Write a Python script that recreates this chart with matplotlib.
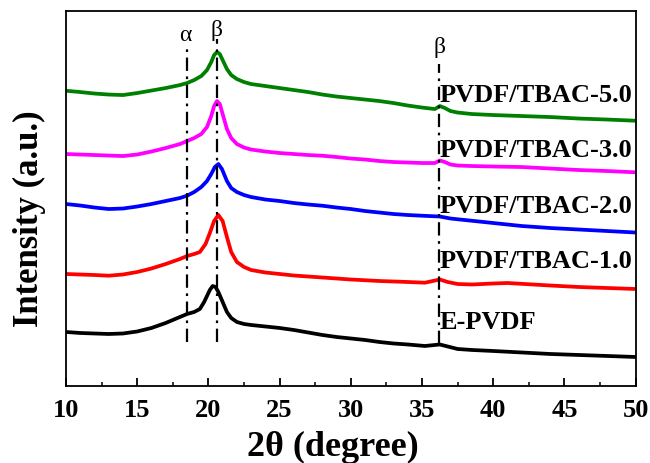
import matplotlib
matplotlib.use("Agg")
import matplotlib.pyplot as plt
from matplotlib.ticker import MultipleLocator

# ---- data (2theta in degree, intensity in arbitrary units) ----
x_black = [10, 11, 12, 13, 14, 15, 16, 17, 17.5, 18, 18.5, 19, 19.4, 19.7, 19.9, 20.1, 20.3, 20.5, 20.7, 21.0, 21.3, 21.6, 22, 22.5, 23, 24, 25, 26, 27, 28, 29, 30, 31, 32, 33, 34, 35.2, 36.25, 36.8, 37.5, 38.5, 40, 42, 44, 46, 48, 50]
y_black = [54, 53, 52.5, 52, 52.5, 54.5, 58, 63, 66, 69, 72, 74, 77, 84, 90, 96, 100, 99, 94, 84, 74, 68, 64, 62, 61, 59.5, 58, 56, 53.5, 51, 49, 47.5, 46, 44, 42.5, 41.5, 40, 41.5, 39.5, 37, 36, 35, 33.5, 32, 31, 30, 29]

x_red = [10, 11, 12, 13, 14, 15, 16, 17, 18, 18.5, 19, 19.4, 19.8, 20.1, 20.4, 20.7, 21.0, 21.3, 21.6, 22, 22.5, 23, 24, 25, 26, 27, 28, 30, 32, 34, 35.2, 36.25, 36.8, 37.5, 38.5, 40, 41, 42.2, 44, 46, 48, 50]
y_red = [112, 111.5, 111, 110.3, 111.5, 114, 117.5, 122, 127, 130, 132, 134, 142, 153, 165, 171, 165, 149, 134, 124, 119, 116, 113.5, 112, 110.5, 109.5, 108.5, 106.5, 105, 104, 103.3, 106.5, 104, 102, 101.5, 102.5, 103, 102, 100.5, 99, 98, 97]

x_blue = [10, 11, 12, 13, 14, 15, 16, 17, 18, 18.5, 19, 19.5, 19.9, 20.2, 20.45, 20.7, 20.95, 21.3, 21.6, 22, 22.5, 23, 24, 25, 26, 27, 28, 29, 30, 31, 32, 33, 34, 35, 36.25, 37, 38, 39, 40, 42, 44, 46, 48, 50]
y_blue = [182, 180.5, 178.5, 177, 177.5, 179.5, 182, 185, 188, 190.3, 194, 199, 205, 212, 219, 222, 217, 205, 198, 194, 191, 189, 186.5, 185, 183, 181.5, 180.3, 178.5, 177, 175, 173.5, 172, 171, 170.3, 169.5, 167.5, 166, 164.5, 163, 160, 158, 156.5, 155, 153.5]

x_magenta = [10, 11, 12, 13, 14, 15, 16, 17, 18, 18.5, 19, 19.5, 19.9, 20.2, 20.4, 20.6, 20.8, 21.0, 21.3, 21.6, 22, 22.5, 23, 24, 25, 26, 27, 28, 29, 30, 31, 32, 33, 34, 35, 35.9, 36.25, 36.6, 37, 37.5, 38.5, 40, 42, 44, 46, 48, 50]
y_magenta = [232, 231.5, 231, 230.5, 230, 231.5, 234.5, 238, 242, 245, 248, 252, 259, 270, 280, 285, 282, 272, 257, 248, 242, 238.5, 236.5, 234.5, 233, 232, 231, 230.3, 229, 227.5, 226.5, 225, 224, 223.5, 223, 223, 225.5, 224, 221.5, 220.5, 220, 219.5, 219, 217.5, 216, 215, 213.7]

x_green = [10, 11, 12, 13, 14, 15, 16, 17, 18, 18.5, 19, 19.5, 19.9, 20.2, 20.4, 20.6, 20.8, 21.0, 21.3, 21.6, 22, 22.5, 23, 24, 25, 26, 27, 28, 29, 30, 31, 32, 33, 34, 35, 35.9, 36.25, 36.6, 37, 37.5, 38.5, 40, 42, 44, 46, 48, 50]
y_green = [295.3, 294, 292.5, 291.5, 291, 293, 295.5, 298, 301, 303, 306, 310, 316, 324, 331, 334, 332, 326, 317, 311, 307, 304, 302, 300, 298, 296, 294, 291.5, 289.5, 288, 286.5, 285, 283, 280.5, 278.5, 277, 280, 278, 275, 273.5, 272, 271, 270, 269, 267.5, 266.5, 265.3]

series_x = [x_black, x_red, x_blue, x_magenta, x_green]
series_y = [y_black, y_red, y_blue, y_magenta, y_green]
colors = ["#000000", "#ff0000", "#0000ff", "#ff00ff", "#008000"]

labels = ["E-PVDF", "PVDF/TBAC-1.0", "PVDF/TBAC-2.0", "PVDF/TBAC-3.0", "PVDF/TBAC-5.0"]
label_y = [64, 126, 181, 237, 292]
label_x = 36.25

# reference peak lines
peak_pos = [18.5, 20.6, 36.2]
peak_bottom = [44, 44, 42]
peak_top = [339, 347, 322]
peak_sym = ["α", "β", "β"]
peak_sym_y = [352, 357, 340]
peak_sym_x = [18.4, 20.6, 36.2]

x_ticks = [10, 15, 20, 25, 30, 35, 40, 45, 50]

plt.rcParams["font.family"] = ["Liberation Serif", "DejaVu Serif"]

fig = plt.figure(figsize=(6.5, 4.64), dpi=100)
ax = fig.add_axes([0.1015, 0.166, 0.8765, 0.808])

for xs, ys, c in zip(series_x, series_y, colors):
    ax.plot(xs, ys, color=c, lw=2.7, solid_joinstyle="round")

for p, b, t in zip(peak_pos, peak_bottom, peak_top):
    ax.plot([p, p], [b, t], color="black", lw=1.6, linestyle=(0, (6, 2.5, 1.2, 2.5)))

for s, sx, sy in zip(peak_sym, peak_sym_x, peak_sym_y):
    ax.text(sx, sy, s, ha="center", va="center", fontsize=17)

for lab, ly in zip(labels, label_y):
    ax.text(label_x, ly, lab, ha="left", va="center", fontsize=19, fontweight="bold")

ax.set_xlim(10, 50)
ax.set_ylim(0, 375)
ax.set_xticks(x_ticks)
ax.set_xticklabels([str(t) for t in x_ticks], fontsize=19, fontweight="bold")
ax.xaxis.set_minor_locator(MultipleLocator(2.5))
ax.set_yticks([])
ax.tick_params(axis="x", which="major", direction="in", length=5.5, width=1.3, pad=9, top=False)
ax.tick_params(axis="x", which="minor", direction="in", length=3, width=1.1, top=False)
for sp in ax.spines.values():
    sp.set_linewidth(1.3)

fig.text(333 / 650, 1 - 447 / 464, "2θ (degree)", ha="center", va="center",
         fontsize=26, fontweight="bold")
fig.text(29 / 650, 1 - 219 / 464, "Intensity (a.u.)", ha="center", va="center",
         rotation=90, fontsize=25, fontweight="bold")

fig.savefig("out.png", dpi=100)
